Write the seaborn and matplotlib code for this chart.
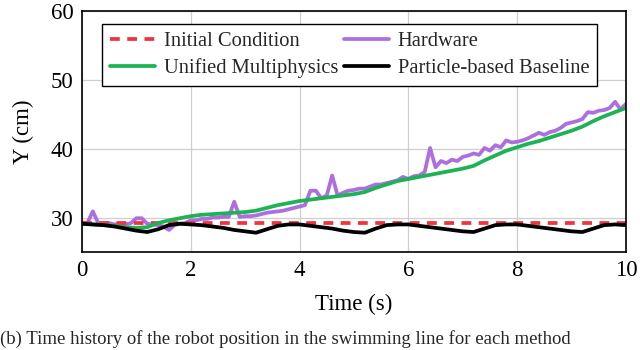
import numpy as np
import pandas as pd
import matplotlib
matplotlib.use("Agg")
import matplotlib.pyplot as plt
import seaborn as sns

# ---- data ----
initial_condition = 29.2
time_range = [0.0, 10.0]

# hardware measurement, sampled every 0.1 s
hw_time = [round(0.1 * i, 1) for i in range(101)]
hw_y = [29.3, 29.2, 30.9, 29.2, 29.1, 29.2, 29.0, 29.1, 29.0, 29.2,
        29.9, 29.9, 29.1, 29.0, 28.9, 28.7, 28.2, 28.9, 29.1, 29.2,
        29.6, 29.6, 29.8, 29.8, 30.0, 30.0, 30.1, 30.1, 32.3, 30.1,
        30.2, 30.2, 30.3, 30.5, 30.7, 30.8, 30.9, 31.0, 31.2, 31.4,
        31.6, 31.8, 33.9, 33.9, 32.8, 33.2, 36.1, 33.2, 33.6, 33.9,
        34.0, 34.2, 34.2, 34.5, 34.8, 34.8, 35.0, 35.2, 35.4, 35.9,
        35.6, 36.0, 36.1, 36.6, 40.1, 37.3, 38.2, 37.9, 38.4, 38.2,
        38.8, 39.0, 39.3, 39.1, 40.1, 39.7, 40.5, 40.2, 41.2, 40.9,
        41.0, 41.2, 41.5, 41.9, 42.3, 42.0, 42.4, 42.6, 43.0, 43.6,
        43.8, 44.0, 44.3, 45.3, 45.2, 45.5, 45.6, 45.9, 46.8, 45.7,
        46.5]

# simulations, sampled every 0.2 s
sim_time = [round(0.2 * i, 1) for i in range(51)]
unified_y = [29.1, 29.0, 28.9, 28.8, 28.6, 28.5, 28.6, 29.2, 29.6, 29.9,
             30.2, 30.4, 30.5, 30.6, 30.7, 30.8, 31.0, 31.4, 31.8, 32.1,
             32.4, 32.6, 32.8, 33.0, 33.2, 33.4, 33.7, 34.3, 34.8, 35.3,
             35.6, 35.9, 36.2, 36.5, 36.8, 37.1, 37.5, 38.3, 39.0, 39.7,
             40.2, 40.7, 41.1, 41.6, 42.1, 42.6, 43.2, 44.0, 44.7, 45.3,
             45.9]
baseline_y = [29.1, 29.0, 28.9, 28.7, 28.4, 28.1, 27.9, 28.3, 28.9, 29.1,
              29.0, 28.9, 28.7, 28.5, 28.2, 28.0, 27.8, 28.3, 28.8, 29.0,
              29.0, 28.8, 28.6, 28.4, 28.1, 27.9, 27.8, 28.4, 28.9, 29.0,
              29.0, 28.8, 28.6, 28.4, 28.2, 28.0, 27.9, 28.4, 28.9, 29.0,
              29.0, 28.8, 28.6, 28.4, 28.2, 28.0, 27.9, 28.4, 28.9, 29.0,
              28.9]

caption = '(b) Time history of the robot position in the swimming line for each method'

sns.set_theme(style="whitegrid")
plt.rcParams['font.family'] = ['Liberation Serif', 'DejaVu Serif']

fig = plt.figure(figsize=(6.4, 3.5), dpi=100)
ax = fig.add_axes([0.128, 0.28, 0.850, 0.689])

lw = 2.7
sns.lineplot(x=time_range, y=[initial_condition, initial_condition], ax=ax,
             color='#f0333f', lw=lw, linestyle=(0, (2.6, 2.0)),
             label='Initial Condition')
sns.lineplot(x=sim_time, y=unified_y, ax=ax, color='#1db355', lw=lw,
             label='Unified Multiphysics')
sns.lineplot(x=hw_time, y=hw_y, ax=ax, color='#ad6ee0', lw=lw,
             label='Hardware', zorder=1.5)
sns.lineplot(x=sim_time, y=baseline_y, ax=ax, color='black', lw=lw,
             label='Particle-based Baseline')

ax.set_xlim(0, 10)
ax.set_ylim(25, 60)
ax.set_xticks([0, 2, 4, 6, 8, 10])
ax.set_yticks([30, 40, 50, 60])
ax.set_xlabel('Time (s)', fontsize=16.5, color='black', labelpad=9)
ax.set_ylabel('Y (cm)', fontsize=16.5, color='black', labelpad=12)
ax.tick_params(labelsize=16.5, colors='black', length=0, pad=6)
ax.grid(True, color='#cfcfcf', lw=0.9)
for sp in ax.spines.values():
    sp.set_color('black')
    sp.set_linewidth(1.2)

handles, labels = ax.get_legend_handles_labels()
leg = ax.legend(handles, labels, ncol=2, loc='upper left',
                bbox_to_anchor=(0.018, 0.99), fontsize=14.8,
                frameon=True, fancybox=False, edgecolor='black',
                framealpha=1, handlelength=2.2, columnspacing=0.3,
                handletextpad=0.4, labelspacing=0.35, borderpad=0.4)
leg.get_frame().set_linewidth(1.0)

fig.text(0.0, 0.005, caption, fontsize=13.5, va='bottom', ha='left')

fig.savefig('out.png', dpi=100)
